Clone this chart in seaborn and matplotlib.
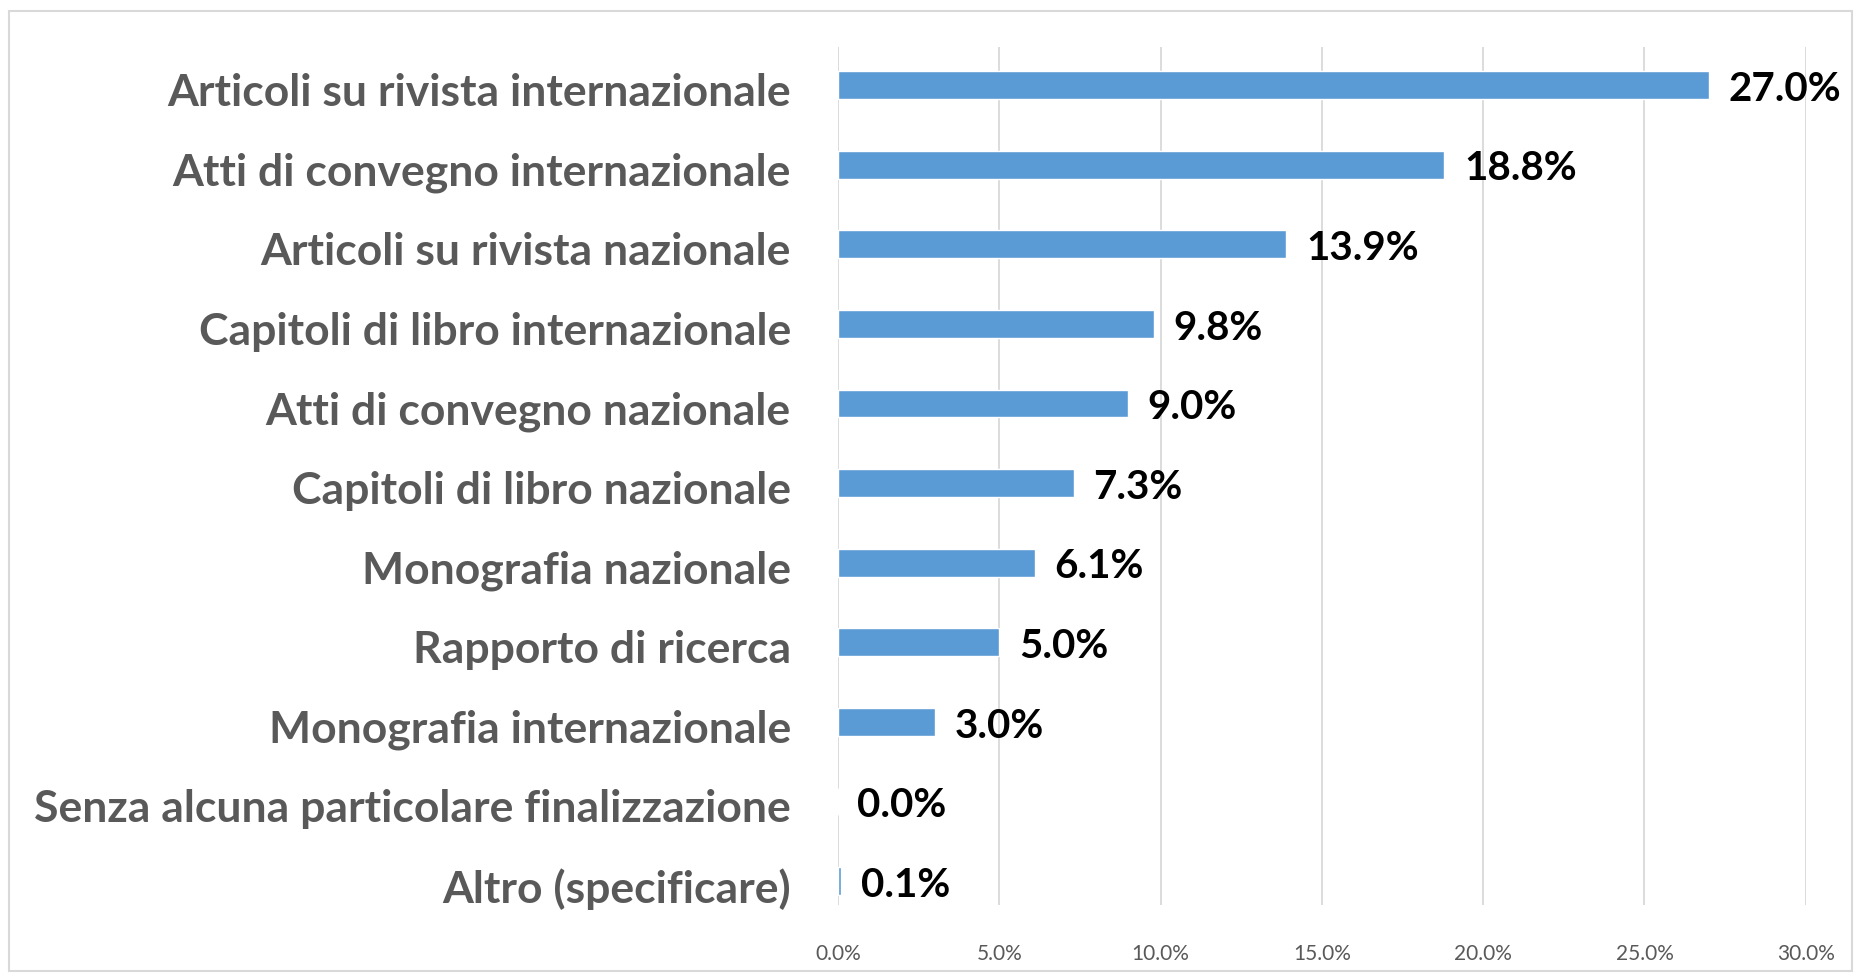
import matplotlib
matplotlib.use("Agg")
import matplotlib.pyplot as plt
import matplotlib.transforms as mtransforms
import seaborn as sns
import pandas as pd
from matplotlib.patches import Rectangle
from matplotlib.ticker import FuncFormatter

categories = [
    "Articoli su rivista internazionale",
    "Atti di convegno internazionale",
    "Articoli su rivista nazionale",
    "Capitoli di libro internazionale",
    "Atti di convegno nazionale",
    "Capitoli di libro nazionale",
    "Monografia nazionale",
    "Rapporto di ricerca",
    "Monografia internazionale",
    "Senza alcuna particolare finalizzazione",
    "Altro (specificare)",
]
values = [27.0, 18.8, 13.9, 9.8, 9.0, 7.3, 6.1, 5.0, 3.0, 0.0, 0.1]
xticks = [0, 5, 10, 15, 20, 25, 30]

df = pd.DataFrame({"cat": categories, "val": values})

sns.set_theme(style="white")
plt.rcParams["font.family"] = ["Lato", "DejaVu Sans"]

fig = plt.figure(figsize=(18.54, 9.75), dpi=100)
ax = fig.add_axes([0.452, 0.0718, 0.522, 0.880])

sns.barplot(data=df, y="cat", x="val", orient="h", color="#5B9BD5",
            saturation=1, width=0.35, ax=ax)

ax.set_xlim(0, 30)
ax.set_ylim(10.30, -0.48)
ax.set_xticks(xticks)
ax.xaxis.set_major_formatter(FuncFormatter(lambda v, p: f"{v:.1f}%"))
ax.grid(axis="x", color="#d9d9d9", linewidth=1.3)
ax.grid(axis="y", visible=False)
ax.set_axisbelow(True)
for s in ax.spines.values():
    s.set_visible(False)
ax.set_xlabel("")
ax.set_ylabel("")
ax.tick_params(axis="y", length=0, pad=34, labelsize=32, labelcolor="#595959")
shift = mtransforms.ScaledTranslation(0, -3 / 72, fig.dpi_scale_trans)
for t in ax.get_yticklabels():
    t.set_fontweight("bold")
    t.set_transform(t.get_transform() + shift)
ax.tick_params(axis="x", length=0, pad=28, labelsize=15, labelcolor="#595959")

for i, v in enumerate(values):
    ax.annotate(f"{v:.1f}%", xy=(v, i), xytext=(14, -3), textcoords="offset points",
                va="center", ha="left", fontsize=29, fontweight="bold", color="black")

fig.patches.append(Rectangle((0.005, 0.004), 0.994, 0.985, transform=fig.transFigure,
                             fill=False, edgecolor="#d9d9d9", linewidth=1.5))

fig.savefig("out.png", dpi=100)
